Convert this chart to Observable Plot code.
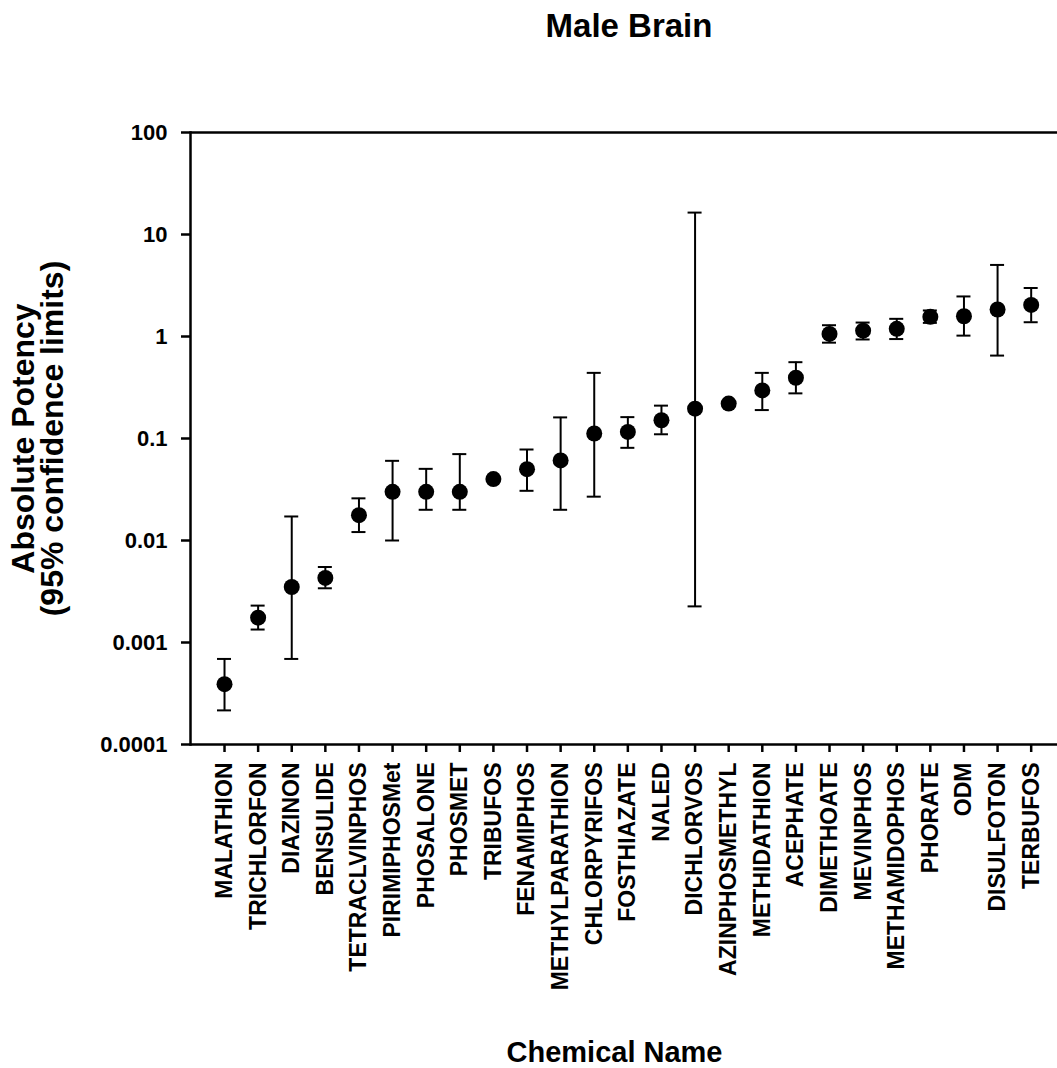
<!DOCTYPE html>
<html><head><meta charset="utf-8">
<script src="https://cdn.jsdelivr.net/npm/d3@7"></script>
<script src="https://cdn.jsdelivr.net/npm/@observablehq/plot@0.6"></script>
<style>
body{margin:0;background:#fff;font-family:"Liberation Sans",Arial,sans-serif;overflow:hidden;width:1057px;height:1068px;color:#000}
#title{height:52px;line-height:52px;font-size:33px;font-weight:bold;text-align:center;padding-left:201px;}
#caption{padding-top:26px;line-height:29px;font-size:29px;font-weight:bold;text-align:center;padding-left:172px;}
#chart svg{display:block}
</style></head><body>
<div id="title">Male Brain</div>
<div id="chart"></div>
<div id="caption">Chemical Name</div>
<script>
const chemicals = ["MALATHION","TRICHLORFON","DIAZINON","BENSULIDE","TETRACLVINPHOS","PIRIMIPHOSMet","PHOSALONE","PHOSMET","TRIBUFOS","FENAMIPHOS","METHYLPARATHION","CHLORPYRIFOS","FOSTHIAZATE","NALED","DICHLORVOS","AZINPHOSMETHYL","METHIDATHION","ACEPHATE","DIMETHOATE","MEVINPHOS","METHAMIDOPHOS","PHORATE","ODM","DISULFOTON","TERBUFOS"];
const potency = [0.00039,0.00175,0.0035,0.0043,0.0177,0.030,0.030,0.030,0.040,0.050,0.061,0.112,0.116,0.151,0.196,0.22,0.296,0.394,1.06,1.14,1.19,1.56,1.58,1.84,2.04];
const lowerCL = [0.000216,0.00134,0.00069,0.0034,0.0121,0.010,0.020,0.020,null,0.0307,0.020,0.0269,0.081,0.11,0.00226,null,0.19,0.277,0.87,0.935,0.944,1.36,1.02,0.65,1.38];
const upperCL = [0.00069,0.0023,0.0172,0.0055,0.0259,0.0604,0.0504,0.0703,null,0.078,0.161,0.44,0.162,0.21,16.4,null,0.44,0.56,1.29,1.37,1.49,1.8,2.47,5.03,2.99];
const yTicks = [0.0001,0.001,0.01,0.1,1,10,100];
const yTickLabels = ["0.0001","0.001","0.01","0.1","1","10","100"];
const yLabelLines = ["Absolute Potency","(95% confidence limits)"];

const rows = chemicals.map((name,i)=>({name, value:potency[i], lo:lowerCL[i], hi:upperCL[i]}));
const bars = rows.filter(d=>d.lo!=null && d.hi!=null);

const chart = Plot.plot({
  width:1057, height:960, marginLeft:190, marginRight:0, marginTop:80, marginBottom:268,
  style:{fontFamily:"'Liberation Sans', Arial, sans-serif", fontWeight:"bold", color:"#000", background:"#fff", overflow:"visible"},
  x:{type:"point", domain:chemicals, padding:0.783, insetLeft:7.7, round:false},
  y:{type:"log", domain:[0.0001,100]},
  marks:[
    Plot.frame({anchor:"left", stroke:"#000", strokeWidth:2.5}),
    Plot.ruleY([100], {stroke:"#000", strokeWidth:2.5}),
    Plot.ruleY([0.0001], {stroke:"#000", strokeWidth:2.5}),
    Plot.axisY({ticks:yTicks, tickFormat:d=>yTickLabels[yTicks.indexOf(d)], tickSize:9, tickPadding:14, fontSize:22, strokeWidth:2.5, label:null}),
    Plot.axisX({tickRotate:-90, tickSize:8, tickPadding:10, fontSize:23, strokeWidth:2.5, label:null}),
    Plot.ruleX(bars, {x:"name", y1:"lo", y2:"hi", stroke:"#000", strokeWidth:2}),
    Plot.ruleY(bars, {x1:"name", x2:"name", y:"lo", insetLeft:-7, insetRight:-7, stroke:"#000", strokeWidth:2}),
    Plot.ruleY(bars, {x1:"name", x2:"name", y:"hi", insetLeft:-7, insetRight:-7, stroke:"#000", strokeWidth:2}),
    Plot.dot(rows, {x:"name", y:"value", r:8, fill:"#000", stroke:null}),
    Plot.text([yLabelLines.join("\n")], {text:d=>d, frameAnchor:"left", dx:-151, rotate:-90, fontSize:32, lineHeight:0.9, fontWeight:"bold", textAnchor:"middle", fill:"#000"})
  ]
});
document.getElementById("chart").appendChild(chart);
</script>
</body></html>
